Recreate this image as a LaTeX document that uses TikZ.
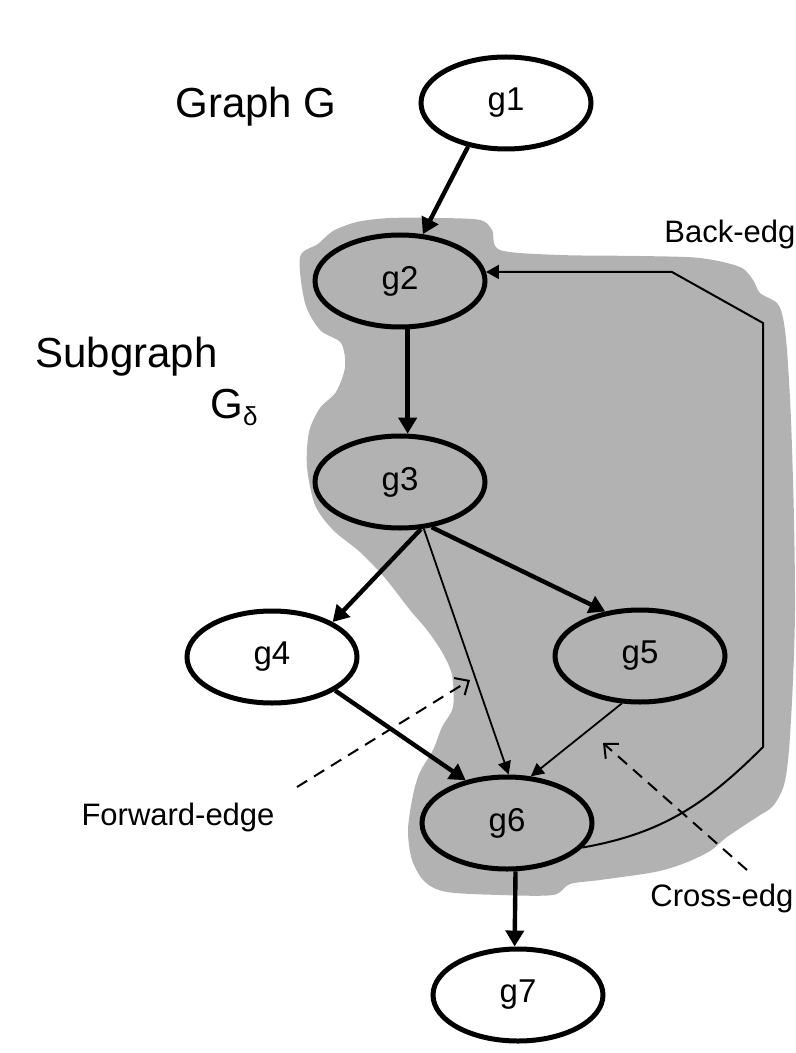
\documentclass[tikz,border=0pt]{standalone}
\usepackage{fontspec}
\setmainfont{Liberation Sans}
\usetikzlibrary{shapes.geometric,arrows.meta}
\definecolor{blobgray}{gray}{0.70}
\tikzstyle{vertex}=[ellipse, draw, line width=2.5pt, fill=white, minimum width=85pt, minimum height=46pt, inner sep=0pt, font=\fontsize{16.5}{18}\selectfont]
\tikzstyle{vertex gray}=[vertex, fill=blobgray]
\tikzstyle{arc}=[->, line width=2.2pt]
\tikzstyle{arc thin}=[-{Triangle[length=6.5pt,width=6.5pt]}, line width=.9pt]
\tikzstyle{arc back}=[-{Triangle[length=6.5pt,width=7pt]}, line width=1pt]
\tikzstyle{hint}=[-{Straight Barb[length=5.5pt,width=10pt]}, line width=1pt, dash pattern=on 6pt off 4pt]
\tikzstyle{region}=[fill=blobgray]
\tikzstyle{big text}=[inner sep=0pt, font=\fontsize{21}{25}\selectfont]
\tikzstyle{small text}=[inner sep=0pt, font=\fontsize{15.5}{19}\selectfont]

\begin{document}
\begin{tikzpicture}[x=.5pt,y=-.5pt,>={Triangle[length=8pt,width=9pt]}]
    \useasboundingbox (0,0) rectangle (796,1053);
    \clip (0,0) rectangle (796,1053);

    % Subgraph
    \fill[region] plot[smooth cycle,tension=.5] coordinates {
      (300,257) (318,244) (333,231) (357,222) (390,218) (440,218) (480,220)
      (492,230) (500,250) (560,255) (640,256) (700,258) (740,267) (753,280)
      (760,293) (777,303) (783,318) (787,350) (791,420) (794,520) (795,610)
      (793,680) (789,750) (784,785) (773,806) (757,817) (727,837) (710,851)
      (685,863) (655,872) (600,880) (570,884) (553,895) (500,895) (447,892)
      (425,882) (412,860) (408,830) (413,795) (420,772) (433,750) (442,727)
      (453,707) (452,675) (442,652) (427,630) (410,610) (385,578) (360,552)
      (333,530) (315,505) (307,467) (309,432) (320,408) (336,392) (345,367)
      (341,343) (320,330) (305,303)};

    % Titles
    \draw (175,118) node[big text,anchor=base west] (graph) {Graph G};
    \draw (35,367) node[big text,anchor=base west] (subgraph) {Subgraph};
    \draw (210,418) node[big text,anchor=base west] (gdelta) {G\raisebox{-.35ex}{\fontsize{13}{13}\selectfont δ}};

    % Vertices
    \draw (506,103) node[vertex] (g1) {g1};
    \draw (400,281) node[vertex gray] (g2) {g2};
    \draw (400,482) node[vertex gray] (g3) {g3};
    \draw (272,657) node[vertex] (g4) {g4};
    \draw (640,656) node[vertex gray] (g5) {g5};
    \draw (507,823) node[vertex gray] (g6) {g6};
    \draw (518,995) node[vertex] (g7) {g7};

    % Edges
    \draw[arc] (g1.229) -- (g2.64);
    \draw[arc] (g2.279) -- (g3.81);
    \draw[arc] (g3.294) -- (g4.30);
    \draw[arc] (g3.305) -- (g5.128);
    \draw[arc thin] (g3.297) -- (g6.88);
    \draw[arc] (g4.332) -- (g6.134);
    \draw[arc thin] (g5.249) -- (g6.63);
    \draw[arc] (g6.280) -- (g7.94);

    % Back-edge
    \coordinate (bkA) at (763,747);
    \coordinate (bkB) at (763,323);
    \coordinate (bkC) at (672,272);
    \draw[arc back] (g6.342) to[out=10,in=225] (bkA) -- (bkB) -- (bkC) -- (g2.6);

    % Edge kinds
    \draw (664,243) node[small text,anchor=base west] (back) {Back-edg};
    \draw (178,825) node[small text,anchor=base] (forward) {Forward-edge};
    \draw (650,906) node[small text,anchor=base west] (cross) {Cross-edg};
    \coordinate (fwA) at (297,787);
    \coordinate (fwB) at (470,680);
    \coordinate (crA) at (747,870);
    \coordinate (crB) at (603,743);
    \draw[hint] (fwA) -- (fwB);
    \draw[hint] (crA) -- (crB);

\end{tikzpicture}
\end{document}
